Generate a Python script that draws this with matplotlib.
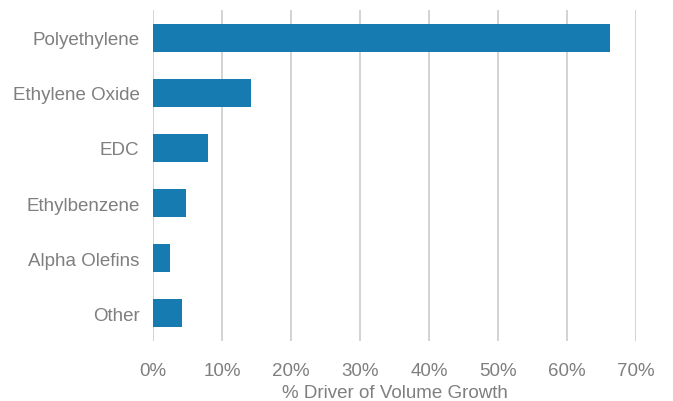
import matplotlib
matplotlib.use("Agg")
import matplotlib.pyplot as plt
from matplotlib.ticker import PercentFormatter

# share of ethylene volume growth by derivative
categories = ["Polyethylene", "Ethylene Oxide", "EDC", "Ethylbenzene", "Alpha Olefins", "Other"]
shares = [66.3, 14.1, 8.0, 4.8, 2.4, 4.1]
xticks = [0, 10, 20, 30, 40, 50, 60, 70]

plt.rcParams["font.family"] = ["Liberation Sans", "DejaVu Sans"]
grey = "#7f7f7f"
fs = 13.5

fig = plt.figure(figsize=(6.73, 4.02), dpi=100)
ax = fig.add_axes([0.2278, 0.15, 0.717, 0.822])

pos = list(range(len(categories)))
ax.barh(pos, shares, height=0.5, color="#167bb1", zorder=3)

ax.set_ylim(len(categories) - 0.5, -0.5)
ax.set_yticks(pos)
ax.set_yticklabels(categories)
ax.set_xlim(0, 70)
ax.set_xticks(xticks)
ax.xaxis.set_major_formatter(PercentFormatter(decimals=0))
ax.grid(axis="x", color="#c8c8c8", linewidth=1.1, zorder=0)

for s in ax.spines.values():
    s.set_visible(False)
ax.tick_params(axis="y", length=0, pad=10, labelsize=fs, labelcolor=grey)
ax.tick_params(axis="x", length=0, pad=15.5, labelsize=fs, labelcolor=grey)

ax.set_xlabel("% Driver of Volume Growth", fontsize=fs, color=grey, labelpad=3.5)

fig.savefig("out.png", dpi=100)
